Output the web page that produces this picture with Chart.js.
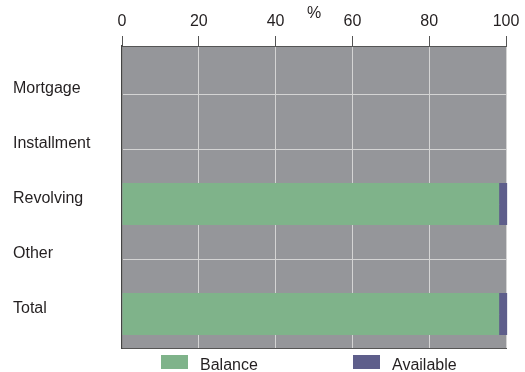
<!DOCTYPE html>
<html>
<head>
<meta charset="utf-8">
<script src="https://cdn.jsdelivr.net/npm/chart.js@4.4.1/dist/chart.umd.min.js"></script>
<style>
  html, body { margin: 0; padding: 0; background: #ffffff; }
  #wrap { width: 525px; height: 372px; position: relative; }
</style>
</head>
<body>
<div id="wrap"><canvas id="c"></canvas></div>
<script>
// Loan categories, shares of credit limit in percent
const categories = ['Mortgage', 'Installment', 'Revolving', 'Other', 'Total'];
const balance    = [0, 0, 98.2, 0, 98.2];
const available  = [0, 0, 2.1, 0, 2.1];
const xTicks     = [0, 20, 40, 60, 80, 100];

const FONT = "'Liberation Sans', Arial, Helvetica, sans-serif";
const TEXT = '#231f20';

// Grey plot background behind the grid
const plotBackground = {
  id: 'plotBackground',
  beforeDraw(chart) {
    const { ctx, chartArea: a } = chart;
    ctx.save();
    ctx.fillStyle = '#95969a';
    ctx.fillRect(a.left, a.top, a.right - a.left, a.bottom - a.top);
    ctx.restore();
  }
};

// Legend drawn underneath the plot with wide spacing between entries
const spacedLegend = {
  id: 'spacedLegend',
  afterDraw(chart, args, opts) {
    const { ctx, chartArea: a } = chart;
    ctx.save();
    ctx.font = '16px ' + FONT;
    ctx.textBaseline = 'middle';
    chart.data.datasets.forEach((ds, i) => {
      const x = a.left + opts.offsets[i];
      const y = a.bottom + opts.top;
      ctx.fillStyle = ds.backgroundColor;
      ctx.fillRect(x, y, opts.boxWidth, opts.boxHeight);
      ctx.fillStyle = TEXT;
      ctx.textAlign = 'left';
      ctx.fillText(ds.label, x + opts.boxWidth + opts.gap, y + opts.boxHeight / 2 + 4);
    });
    ctx.restore();
  }
};

const toPoints = arr => arr.map((v, i) => ({ x: v, y: i }));

new Chart(document.getElementById('c'), {
  type: 'bar',
  data: {
    datasets: [
      { label: 'Balance',   data: toPoints(balance),   backgroundColor: '#7fb38a', borderWidth: 0, clip: false },
      { label: 'Available', data: toPoints(available), backgroundColor: '#5e5e8b', borderWidth: 0, clip: false }
    ]
  },
  options: {
    indexAxis: 'y',
    responsive: true,
    maintainAspectRatio: false,
    animation: false,
    barPercentage: 1,
    categoryPercentage: 0.764,
    layout: { padding: { left: 13, right: 19, top: 0, bottom: 24 } },
    plugins: {
      legend: { display: false },
      tooltip: { enabled: false },
      spacedLegend: { offsets: [39, 231], top: 7, boxWidth: 27, boxHeight: 14, gap: 12 }
    },
    scales: {
      x: {
        type: 'linear',
        position: 'top',
        stacked: true,
        min: 0,
        max: 100,
        afterBuildTicks: s => { s.ticks = xTicks.map(v => ({ value: v })); },
        afterFit: s => { s.height = 46; },
        ticks: { font: { family: FONT, size: 16 }, color: TEXT, padding: 5, maxRotation: 0 },
        grid: { color: '#d4d4d4', lineWidth: 1, tickColor: '#555555', tickLength: 10 },
        border: { display: true, color: '#555555', width: 1 },
        title: {
          display: true,
          text: '%',
          font: { family: FONT, size: 16 },
          color: TEXT,
          padding: { top: 4, bottom: 0 }
        }
      },
      x2: {
        type: 'linear',
        position: 'bottom',
        min: 0,
        max: 100,
        ticks: { display: false },
        grid: { display: false, drawTicks: false },
        border: { display: true, color: '#555555', width: 1 }
      },
      y: {
        type: 'linear',
        position: 'left',
        stacked: true,
        reverse: true,
        offset: false,
        min: -0.873,
        max: 4.618,
        afterBuildTicks: s => { s.ticks = categories.map((_, i) => ({ value: i })); },
        afterFit: s => { s.width = 109; },
        ticks: {
          font: { family: FONT, size: 16 },
          color: TEXT,
          crossAlign: 'far',
          labelOffset: -5,
          callback: v => categories[v] ?? ''
        },
        grid: { color: '#d4d4d4', lineWidth: 1, drawTicks: false, offset: false },
        border: { display: true, color: '#444444', width: 1.5 }
      }
    }
  },
  plugins: [plotBackground, spacedLegend]
});
</script>
</body>
</html>
